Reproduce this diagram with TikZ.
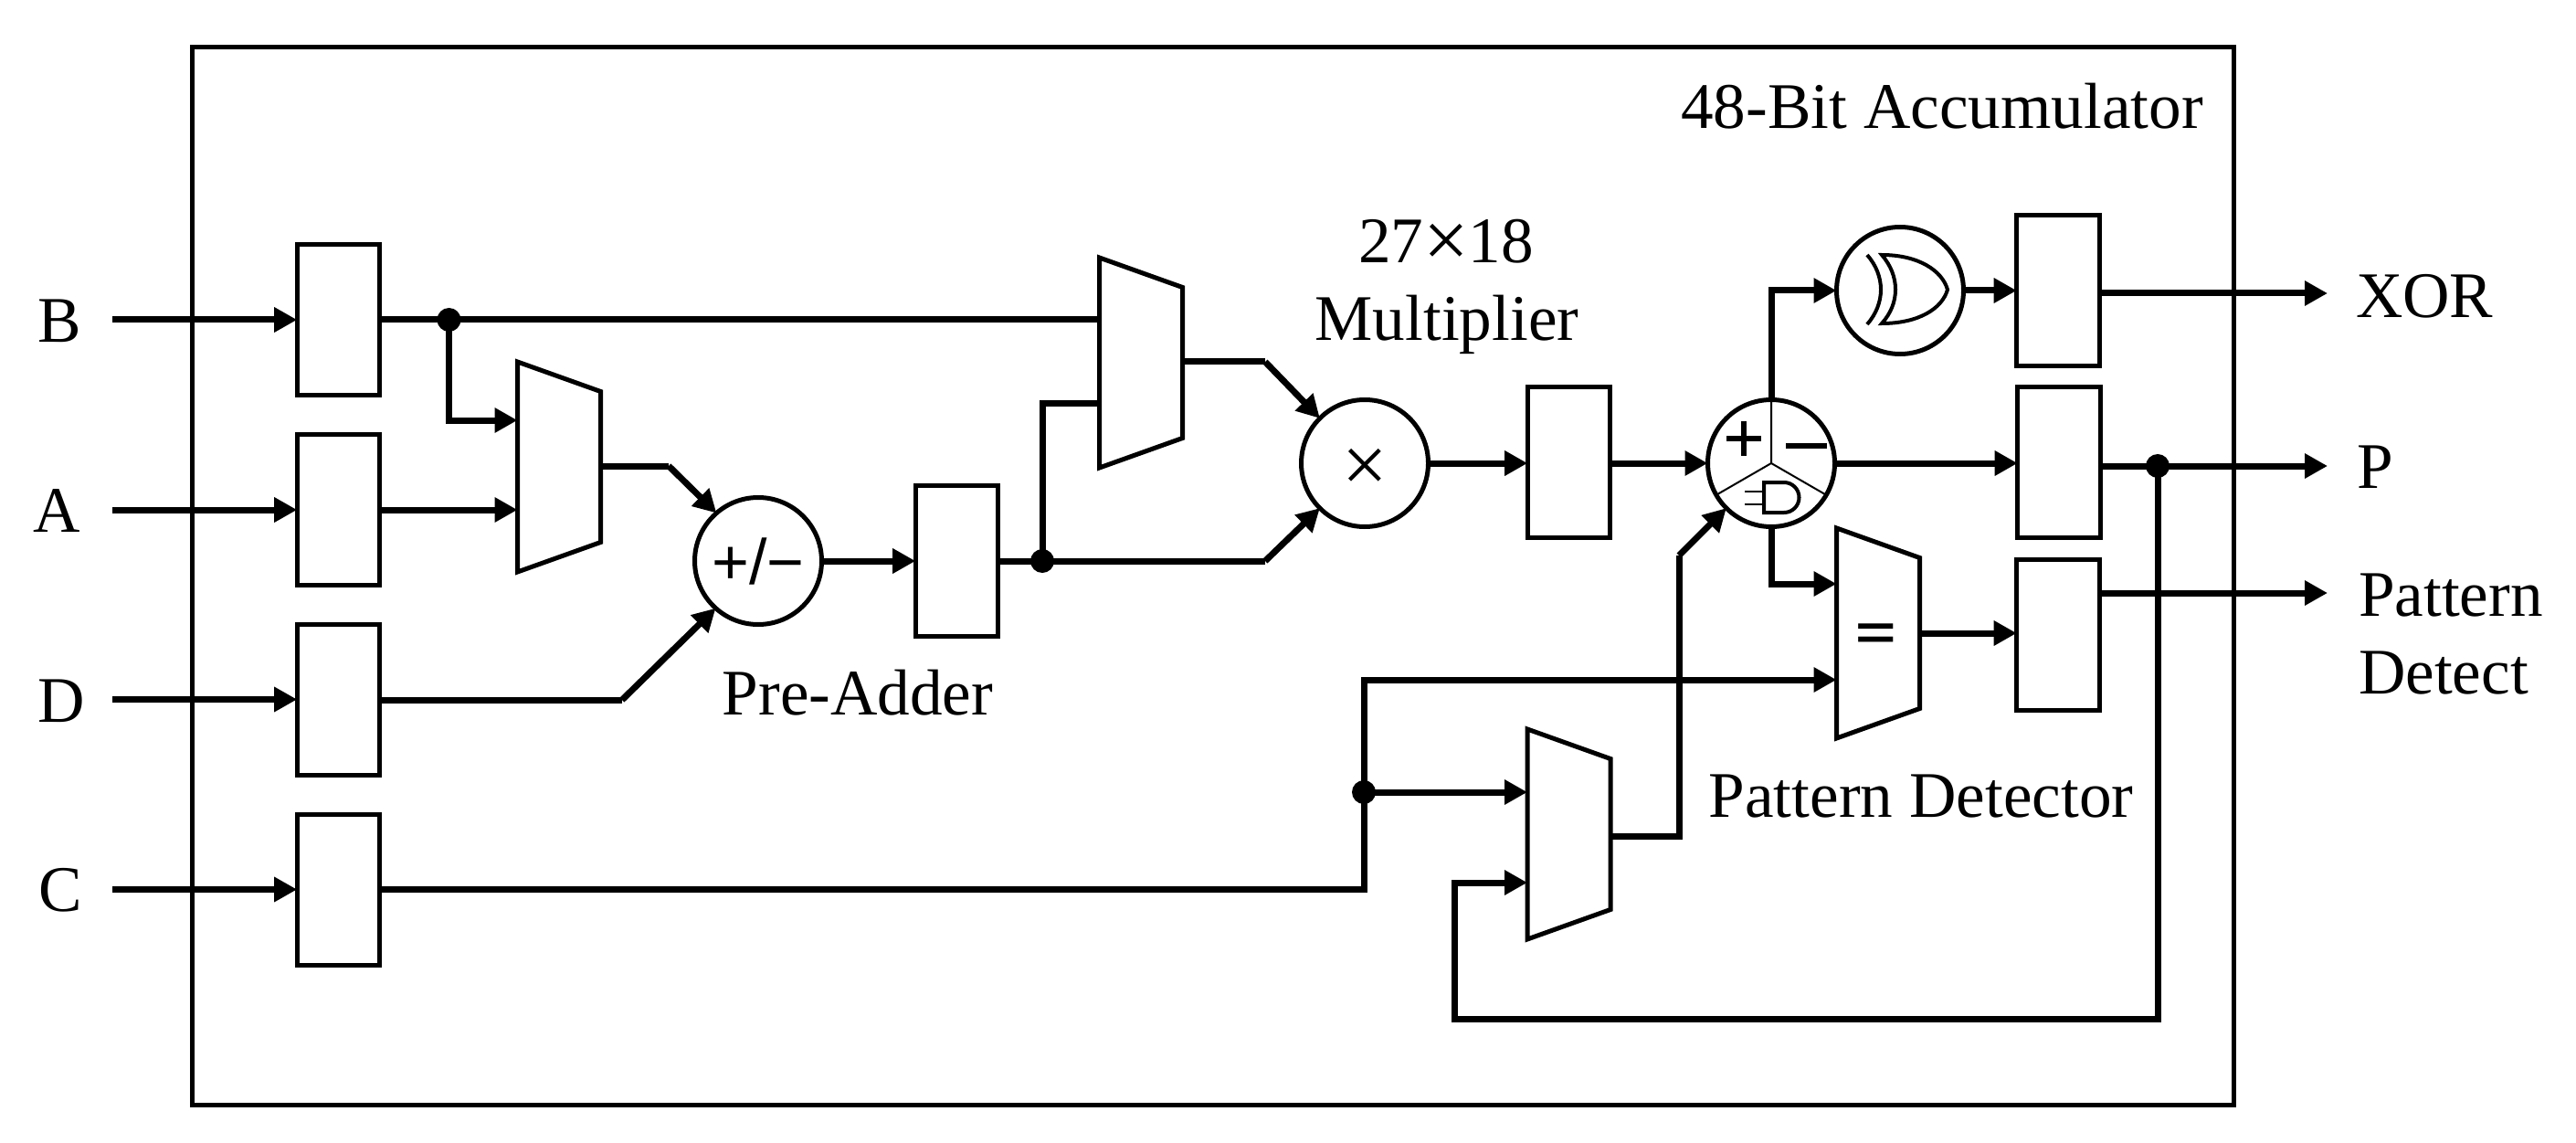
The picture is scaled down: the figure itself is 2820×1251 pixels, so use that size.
\documentclass[tikz,border=0pt]{standalone}
\usepackage{fontspec}
\setmainfont{Liberation Serif}
\newfontfamily\symfont{Liberation Sans}
\usetikzlibrary{arrows.meta,calc}
\tikzset{
  wire/.style={line width=3.5pt,line join=miter},
  arr/.style={wire,-{Triangle[length=12.5pt,width=13pt]}},
  regbox/.style={draw,line width=2.5pt,rectangle,minimum width=45.3pt,minimum height=82.5pt,inner sep=0pt,outer sep=0pt},
  opcircle/.style={draw,line width=2.5pt,circle,minimum size=69.5pt,inner sep=0pt,outer sep=0pt},
  muxbox/.style={rectangle,minimum width=45.5pt,minimum height=115pt,inner sep=0pt,outer sep=0pt},
  muxline/.style={line width=2.5pt,line join=miter},
  junction/.style={circle,fill=black,minimum size=13pt,inner sep=0pt,outer sep=0pt},
  lab/.style={font=\fontsize{35.6}{42}\selectfont,inner sep=0pt,outer sep=0pt,anchor=base},
  leftlab/.style={lab,anchor=base west},
  thinline/.style={line width=1pt},
  glyphline/.style={line width=3pt},
  gateline/.style={line width=2pt,line join=miter},
}
\newcommand{\muxnode}[3]{%
  \node[muxbox,name=#1] at (#2,#3) {};
  \draw[muxline] (#1.north west) -- ($(#1.north east)+(0,32.5)$) -- ($(#1.south east)+(0,-32.5)$) -- (#1.south west) -- cycle;
}
\newcommand{\bigtimes}{\fontsize{44}{44}\selectfont ×}
\begin{document}
\begin{tikzpicture}[x=0.5pt,y=-0.5pt]
\useasboundingbox (0,0) rectangle (2820,1251);
\node[draw,line width=2.5pt,rectangle,minimum width=1117.5pt,minimum height=579pt,inner sep=0pt,outer sep=0pt] (frame) at (1327.5,630.5) {};

% registers
\node[regbox] (rb) at (370.5,350) {};
\node[regbox] (ra) at (370.5,558) {};
\node[regbox] (rd) at (370.5,765.5) {};
\node[regbox] (rc) at (370.5,973.5) {};
\node[regbox] (rp) at (1047.5,614) {};
\node[regbox] (rm) at (1717.5,506) {};
\node[regbox] (rx) at (2253,318) {};
\node[regbox] (ro) at (2254,506) {};
\node[regbox] (rq) at (2253,695) {};

% muxes
\muxnode{ma}{612}{511}
\muxnode{mb}{1249}{397}
\muxnode{mc}{1717.5}{913}
\muxnode{me}{2056}{693}
\node[font=\symfont\bfseries\fontsize{38}{38}\selectfont,inner sep=0pt] (eq) at (2054,697) {\scalebox{1}[0.7]{=}};

% operators
\node[opcircle,font=\symfont\fontsize{35}{35}\selectfont] (pa) at (830,614) {+/−};
\node[opcircle] (mu) at (1494,507) {};
\node[inner sep=0pt] (mutimes) at (1494,515) {\bigtimes};
\node[opcircle] (su) at (1939,507) {};
\node[opcircle] (xo) at (2080,318) {};

% sum circle contents
\draw[thinline] (su.90) -- (su.center) -- (su.210);
\draw[thinline] (su.center) -- (su.330);
\draw[glyphline] (1890,480) -- (1928,480);
\draw[glyphline] (1909,461) -- (1909,499);
\draw[glyphline] (1955,488) -- (2000,488);
\draw[gateline] (1931,528) -- (1953,528) arc[start angle=-90,end angle=90,radius=16.5] -- (1931,561) -- cycle;
\draw[thinline] (1910,538) -- (1931,538);
\draw[thinline] (1910,552) -- (1931,552);

% xor symbol
\draw[gateline] (2044,279) .. controls (2064,302) and (2064,332) .. (2044,355);
\draw[gateline] (2060,279) .. controls (2100,279) and (2126,296) .. (2132,317) .. controls (2126,338) and (2100,354) .. (2060,354) .. controls (2080,332) and (2080,302) .. (2060,279) -- cycle;

% junctions
\node[junction] (jb) at (491.5,350) {};
\node[junction] (jp) at (1141,614) {};
\node[junction] (jc) at (1493,867) {};
\node[junction] (jo) at (2362,510) {};

% free ends and bends
\coordinate (inb) at (123,350);
\coordinate (ina) at (123,558);
\coordinate (ind) at (123,765.5);
\coordinate (inc) at (123,973.5);
\coordinate (outx) at (2548,321);
\coordinate (outp) at (2548,510);
\coordinate (outq) at (2548,649);
\coordinate (b1) at (732,510);
\coordinate (b2) at (681,766);
\coordinate (b3) at (1385,396);
\coordinate (b4) at (1385,614);
\coordinate (b5) at (1838,608);
\coordinate (b6) at (1592,1115);

% inputs
\draw[arr] (inb) -- (rb.west);
\draw[arr] (ina) -- (ra.west);
\draw[arr] (ind) -- (rd.west);
\draw[arr] (inc) -- (rc.west);

% B path
\draw[wire] (rb.east) -- (mb.west |- rb.east);
\draw[arr] (jb.center) -- (jb |- 0,460) -- (ma.west |- 0,460);
\draw[arr] (ra.east) -- (ma.west |- ra.east);
\draw[wire] (ma.east |- b1) -- (b1);
\draw[arr] (b1) -- (pa.131);
\draw[wire] (rd.east |- b2) -- (b2);
\draw[arr] (b2) -- (pa.228);
\draw[arr] (pa.east) -- (rp.west);
\draw[wire] (rp.east) -- (b4);
\draw[wire] (jp.center) -- (jp |- 0,441) -- (mb.west |- 0,441);
\draw[arr] (b4) -- (mu.225);
\draw[wire] (mb.east |- b3) -- (b3);
\draw[arr] (b3) -- (mu.135);
\draw[arr] (mu.east) -- (rm.west |- mu.east);
\draw[arr] (rm.east |- su.west) -- (su.west);
\draw[arr] (su.east) -- (ro.west |- su.east);

% accumulator outputs
\draw[arr] (su.north) -- (su.north |- xo.west) -- (xo.west);
\draw[arr] (xo.east) -- (rx.west);
\draw[arr] (rx.east |- outx) -- (outx);
\draw[arr] (ro.east |- outp) -- (outp);
\draw[arr] (su.south) -- (su.south |- 0,639) -- (me.west |- 0,639);
\draw[arr] (me.east |- 0,693) -- (rq.west |- 0,693);
\draw[arr] (rq.east |- outq) -- (outq);

% C path
\draw[arr] (rc.east) -- (jc |- rc.east) -- (jc |- 0,744) -- (me.west |- 0,744);
\draw[arr] (jc.center) -- (mc.west |- jc);
\draw[wire] (mc.east |- 0,915) -- (b5 |- 0,915) -- (b5);
\draw[arr] (b5) -- (su.225);
\draw[arr] (jo.center) -- (jo |- b6) -- (b6) -- (b6 |- 0,966) -- (mc.west |- 0,966);

% labels
\node[lab] (tacc) at (2126,141) {48-Bit Accumulator};
\node[lab] (tmul) at (1583,288) {27\raisebox{-2.3pt}{\bigtimes}18};
\node[lab] (tmlt) at (1584,372) {Multiplier};
\node[lab] (tpre) at (939,782) {Pre-Adder};
\node[lab] (tpat) at (2103,894) {Pattern Detector};
\node[lab] (lb) at (65,375) {B};
\node[lab] (la) at (62,582) {A};
\node[lab] (ld) at (67,790) {D};
\node[lab] (lc) at (66,997) {C};
\node[leftlab] (lx) at (2579,348) {XOR};
\node[leftlab] (lp) at (2580,534) {P};
\node[leftlab] (lq) at (2582,674) {Pattern};
\node[leftlab] (lr) at (2582,759) {Detect};
\end{tikzpicture}
\end{document}
